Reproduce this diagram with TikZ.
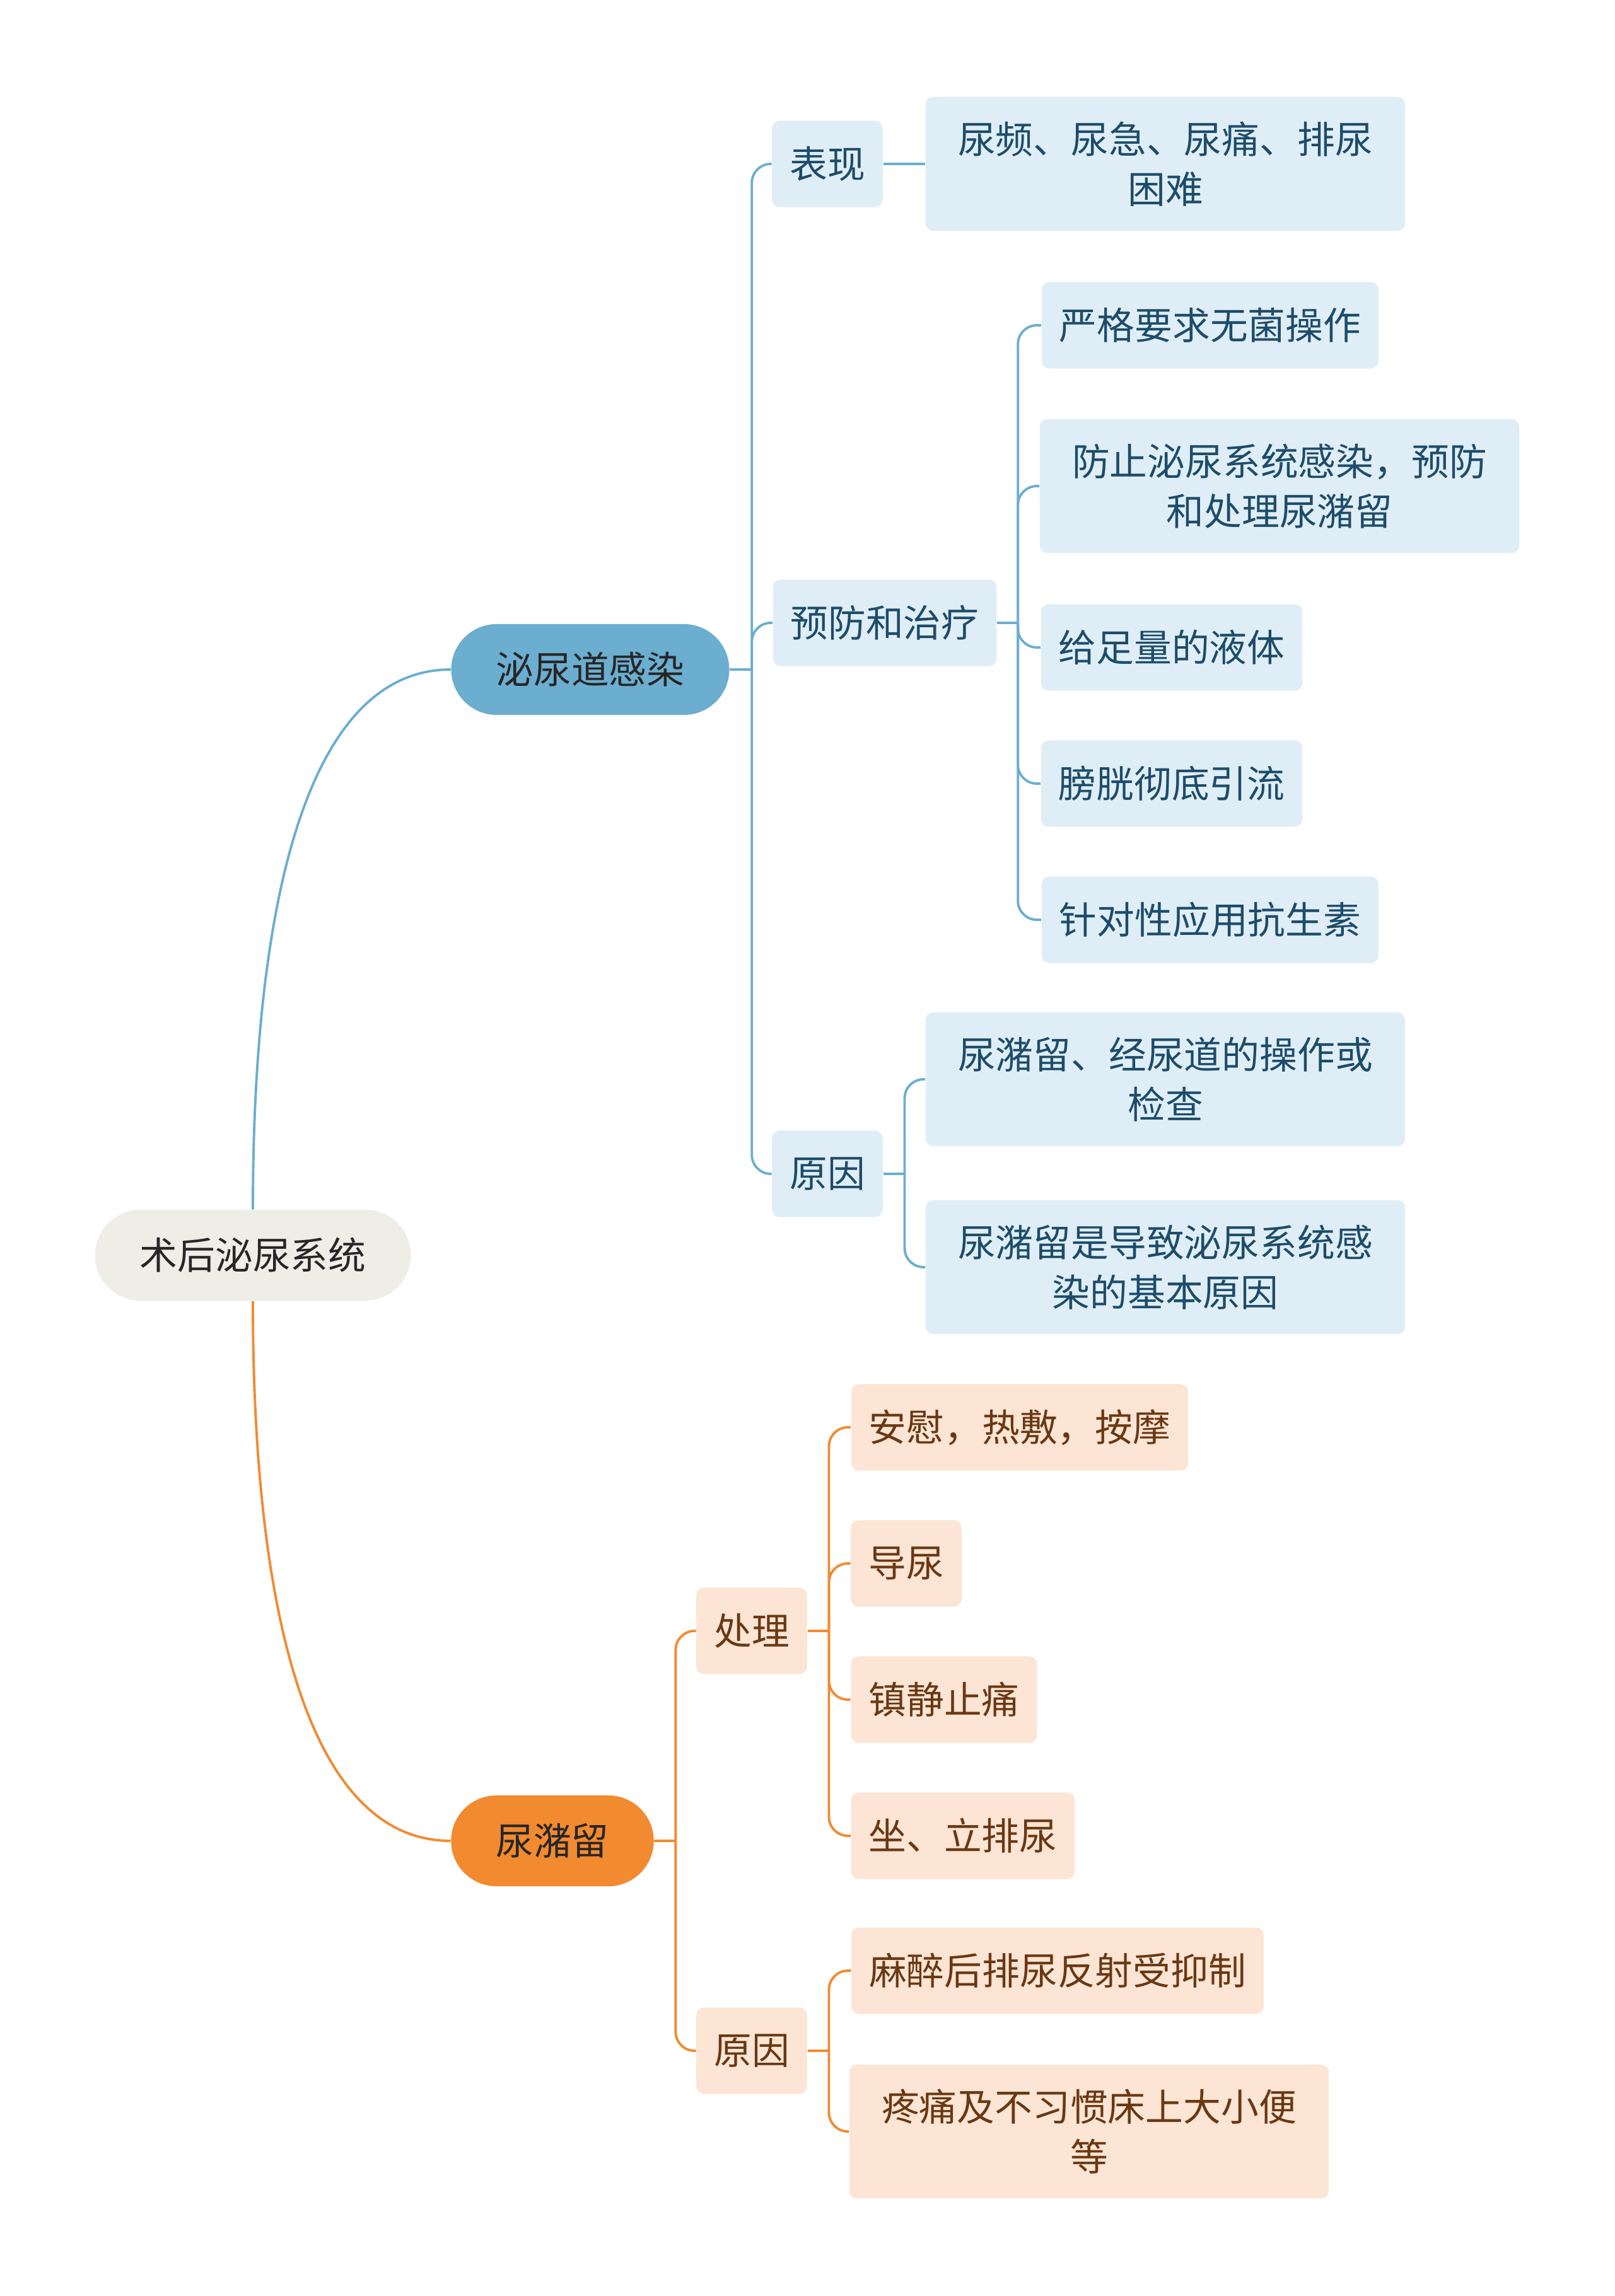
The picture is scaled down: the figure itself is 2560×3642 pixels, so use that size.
\documentclass[tikz,border=0pt]{standalone}
\usepackage{fontspec}
\setmainfont{Noto Sans CJK SC}
\usepackage{xcolor}
\usepackage{tikz}

\definecolor{rootfill}{HTML}{EEEDE6}
\definecolor{utiblue}{HTML}{6BAED0}
\definecolor{paleblue}{HTML}{DFEEF6}
\definecolor{inkblue}{HTML}{1D4C6A}
\definecolor{retorange}{HTML}{F28A30}
\definecolor{paleorange}{HTML}{FCE5D4}
\definecolor{inkbrown}{HTML}{6A3813}

\tikzset{
  pill/.style={rounded corners=0.72cm, minimum height=1.44cm, inner xsep=0.71cm, text=black!85},
  rootbox/.style={pill, fill=rootfill},
  mainA/.style={pill, fill=utiblue},
  mainB/.style={pill, fill=retorange},
  leaf/.style={rounded corners=0.12cm, minimum height=1.37cm, inner xsep=0.28cm, inner ysep=0.39cm, align=center},
  subA/.style={leaf, fill=paleblue, text=inkblue},
  subB/.style={leaf, fill=paleorange, text=inkbrown},
  wide/.style={minimum width=7.6cm},
  lineA/.style={draw=utiblue, line width=1.1pt},
  lineB/.style={draw=retorange, line width=1.1pt},
  branch/.style={rounded corners=0.3cm}
}

\begin{document}
\begin{tikzpicture}[x=0.01cm, y=-0.01cm, font=\fontsize{17pt}{22.5pt}\selectfont]
	\useasboundingbox (0,0) rectangle (2560,3642);
	% root and main topics
	\node[rootbox] (root) at (401,1991) {术后泌尿系统};
	\node[mainA] (uti) at (936,1062) {泌尿道感染};
	\node[mainB] (ret) at (876,2920) {尿潴留};
	% urinary tract infection
	\node[subA] (sym) at (1312,260) {表现};
	\node[subA] (prev) at (1403,988) {预防和治疗};
	\node[subA] (causeA) at (1312,1862) {原因};
	\node[subA, wide] (symA) at (1848,260) {尿频、尿急、尿痛、排尿\\困难};
	\node[subA] (prevA) at (1919,516) {严格要求无菌操作};
	\node[subA, wide] (prevB) at (2029,771) {防止泌尿系统感染，预防\\和处理尿潴留};
	\node[subA] (prevC) at (1858,1027) {给足量的液体};
	\node[subA] (prevD) at (1858,1243) {膀胱彻底引流};
	\node[subA] (prevE) at (1919,1459) {针对性应用抗生素};
	\node[subA, wide] (causeAa) at (1848,1712) {尿潴留、经尿道的操作或\\检查};
	\node[subA, wide] (causeAb) at (1848,2010) {尿潴留是导致泌尿系统感\\染的基本原因};
	% urinary retention
	\node[subB] (treat) at (1192,2587) {处理};
	\node[subB] (causeB) at (1192,3253) {原因};
	\node[subB] (treatA) at (1617,2264) {安慰，热敷，按摩};
	\node[subB] (treatB) at (1437,2480) {导尿};
	\node[subB] (treatC) at (1497,2696) {镇静止痛};
	\node[subB] (treatD) at (1527,2912) {坐、立排尿};
	\node[subB] (causeBa) at (1677,3126) {麻醉后排尿反射受抑制};
	\node[subB, wide] (causeBb) at (1727,3381) {疼痛及不习惯床上大小便\\等};

	% junction points
	\path (uti.east) ++(35,0) coordinate (utiJ);
	\path (prev.east) ++(33,0) coordinate (prevJ);
	\path (causeA.east) ++(34,0) coordinate (causeAJ);
	\path (ret.east) ++(34,0) coordinate (retJ);
	\path (treat.east) ++(34,0) coordinate (treatJ);
	\path (causeB.east) ++(34,0) coordinate (causeBJ);

	% connectors
	\draw[lineA] (root.north) .. controls +(0,-480) and +(-230,0) .. (uti.west);
	\draw[lineB] (root.south) .. controls +(0,480) and +(-230,0) .. (ret.west);
	\draw[lineA] (uti.east) -- (utiJ);
	\foreach \c in {sym,prev,causeA}
		\draw[lineA, branch] (utiJ) |- (\c.west);
	\draw[lineA] (sym.east) -- (symA.west);
	\draw[lineA] (prev.east) -- (prevJ);
	\foreach \c in {prevA,prevB,prevC,prevD,prevE}
		\draw[lineA, branch] (prevJ) |- (\c.west);
	\draw[lineA] (causeA.east) -- (causeAJ);
	\foreach \c in {causeAa,causeAb}
		\draw[lineA, branch] (causeAJ) |- (\c.west);
	\draw[lineB] (ret.east) -- (retJ);
	\foreach \c in {treat,causeB}
		\draw[lineB, branch] (retJ) |- (\c.west);
	\draw[lineB] (treat.east) -- (treatJ);
	\foreach \c in {treatA,treatB,treatC,treatD}
		\draw[lineB, branch] (treatJ) |- (\c.west);
	\draw[lineB] (causeB.east) -- (causeBJ);
	\foreach \c in {causeBa,causeBb}
		\draw[lineB, branch] (causeBJ) |- (\c.west);
\end{tikzpicture}
\end{document}
